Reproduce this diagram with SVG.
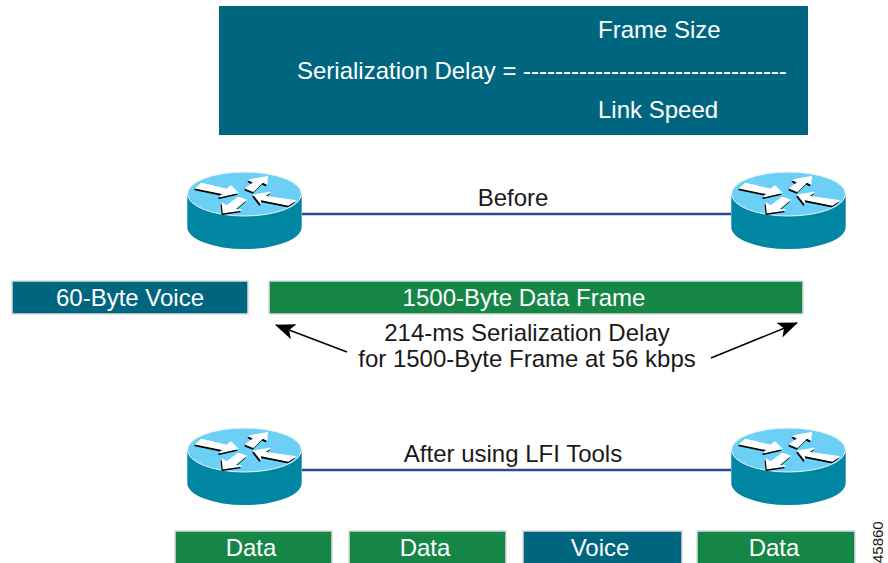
<svg xmlns="http://www.w3.org/2000/svg" width="888" height="563" viewBox="0 0 888 563">
<style>
text{font-family:"Liberation Sans",Arial,sans-serif;font-size:24px}
.w{fill:#fff}.k{fill:#1a1a1a}.m{text-anchor:middle}
.blue{fill:#00667f}.green{fill:#168647}
.bar{stroke:#dcdcdc;stroke-width:1.5}
.link{stroke:#2f4a94;stroke-width:2.5;fill:none}
.ptr{stroke:#000;stroke-width:1.5;fill:none;marker-end:url(#ah)}
</style>
<defs>
<marker id="ah" viewBox="0 0 20 16" refX="19" refY="8" markerWidth="20" markerHeight="16" markerUnits="userSpaceOnUse" orient="auto"><path d="M0 0L20 8L0 16L5 8Z" fill="#000"/></marker>
<symbol id="router" overflow="visible" viewBox="0 0 150 100" width="150" height="100">
<path d="M17.3 34V67A57 22 0 0 0 131.700 67V34Z" fill="#0085a2"/>
<ellipse cx="74.500" cy="34" rx="57" ry="22" fill="#6ccff6" stroke="#e8f6fb" stroke-width="1"/>
<g transform="scale(.3333)" stroke-width="4" stroke-linejoin="round">
<g fill="#000" stroke="#000" transform="translate(-3,5)">
<path d="M95 70L170 88L183 78L203 98L150 110L160 101L78 84Z"/>
<path d="M228 85L252 68L238 60L292 50L290 72L278 66L250 94Z"/>
<path d="M228 120L192 150L213 150L160 158L157 130L170 138L205 112Z"/>
<path d="M252 105L300 97L283 109L375 122L355 135L270 118L272 130Z"/>
</g>
<g fill="#fff" stroke="#fff">
<path d="M95 70L170 88L183 78L203 98L150 110L160 101L78 84Z"/>
<path d="M228 85L252 68L238 60L292 50L290 72L278 66L250 94Z"/>
<path d="M228 120L192 150L213 150L160 158L157 130L170 138L205 112Z"/>
<path d="M252 105L300 97L283 109L375 122L355 135L270 118L272 130Z"/>
</g>
</g>
</symbol>
</defs>
<g id="connectors">
<path class="link" d="M302 214H731"/>
<path class="link" d="M302 470H731"/>
<path class="ptr" d="M347 352L276 325"/>
<path class="ptr" d="M711 358L797 323"/>
</g>
<g id="formula">
<rect x="219" y="6" width="589" height="129" class="blue"/>
<text class="w" x="598" y="38">Frame Size</text>
<text class="w" x="297" y="79">Serialization Delay = ---------------------------------</text>
<text class="w" x="598" y="118">Link Speed</text>
</g>
<g id="router-before-left"><use href="#router" x="170" y="160"/></g>
<g id="router-before-right"><use href="#router" x="714" y="160"/></g>
<g id="label-before"><text class="k m" x="513" y="206">Before</text></g>
<g id="voice-60"><rect x="12" y="281" width="236" height="33" class="blue bar"/><text class="w m" x="130" y="306">60-Byte Voice</text></g>
<g id="data-1500"><rect x="269" y="281" width="534" height="33" class="green bar"/><text class="w m" x="524" y="306">1500-Byte Data Frame</text></g>
<g id="delay-label">
<text class="k m" x="527" y="341">214-ms Serialization Delay</text>
<text class="k m" x="527" y="367">for 1500-Byte Frame at 56 kbps</text>
</g>
<g id="router-after-left"><use href="#router" x="170" y="416"/></g>
<g id="router-after-right"><use href="#router" x="714" y="416"/></g>
<g id="label-after"><text class="k m" x="513" y="462">After using LFI Tools</text></g>
<g id="frame-data-1"><rect x="175" y="531" width="157" height="34" class="green bar"/><text class="w m" x="251" y="556">Data</text></g>
<g id="frame-data-2"><rect x="349" y="531" width="157" height="34" class="green bar"/><text class="w m" x="425" y="556">Data</text></g>
<g id="frame-voice"><rect x="523" y="531" width="159" height="34" class="blue bar"/><text class="w m" x="600" y="556">Voice</text></g>
<g id="frame-data-3"><rect x="697" y="531" width="158" height="34" class="green bar"/><text class="w m" x="774" y="556">Data</text></g>
<g id="figure-number"><text class="k" style="font-size:15px" transform="translate(883,563) rotate(-90)">45860</text></g>
</svg>
